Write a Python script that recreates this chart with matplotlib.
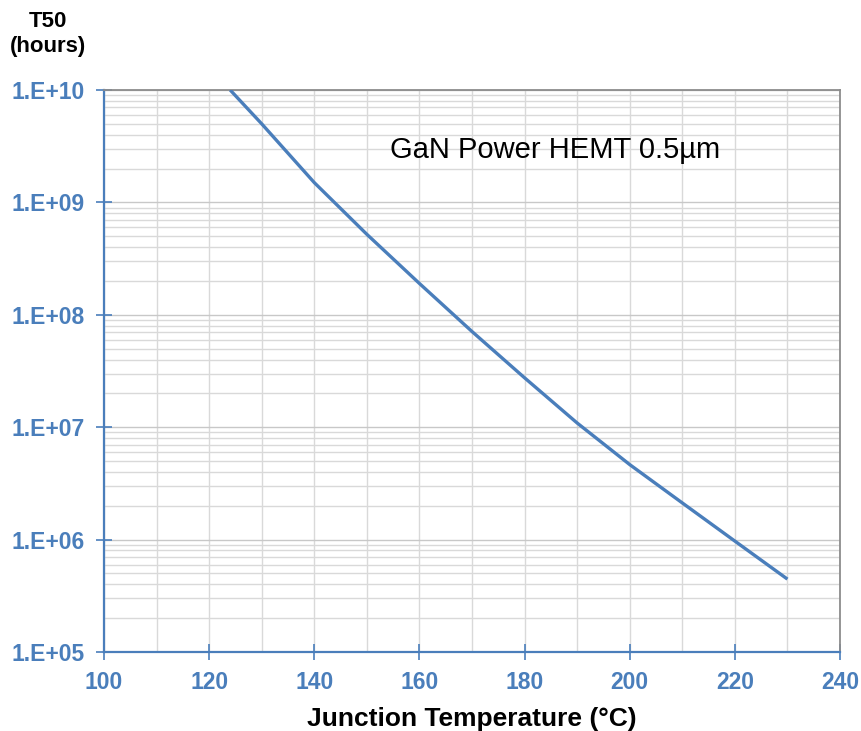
import matplotlib
matplotlib.use("Agg")
import matplotlib.pyplot as plt
from matplotlib.ticker import FixedLocator, LogLocator, NullFormatter
import numpy as np

# Data
temperature_c = [124, 130, 140, 150, 160, 170, 180, 190, 200, 210, 220, 230]
t50_hours = [1.0e10, 5.0e9, 1.5e9, 5.2e8, 1.9e8, 7.1e7, 2.75e7, 1.09e7, 4.65e6, 2.12e6, 9.7e5, 4.45e5]
x_ticks = [100, 120, 140, 160, 180, 200, 220, 240]
y_ticks = [1e5, 1e6, 1e7, 1e8, 1e9, 1e10]
y_tick_labels = ["1.E+05", "1.E+06", "1.E+07", "1.E+08", "1.E+09", "1.E+10"]
annotation = "GaN Power HEMT 0.5µm"

blue = "#4A7EBB"
font = ["Liberation Sans", "DejaVu Sans"]
plt.rcParams["font.family"] = font

fig = plt.figure(figsize=(8.62, 7.31), dpi=100)
ax = fig.add_axes([104/862, 1-652/731, (840-104)/862, (652-90)/731])

ax.set_yscale("log")
ax.set_xlim(100, 240)
ax.set_ylim(1e5, 1e10)

# grid
ax.xaxis.set_minor_locator(FixedLocator(np.arange(100, 241, 10)))
ax.yaxis.set_minor_locator(LogLocator(base=10, subs=np.arange(2, 10), numticks=20))
ax.yaxis.set_minor_formatter(NullFormatter())
ax.grid(True, which="both", axis="both", color="#D9D9D9", linewidth=1.0)
ax.grid(True, which="major", axis="y", color="#C8C8C8", linewidth=1.0)
ax.set_axisbelow(True)

ax.plot(temperature_c, t50_hours, color=blue, linewidth=2.4, solid_capstyle="butt", zorder=3)

ax.set_xticks(x_ticks)
ax.set_yticks(y_ticks)
ax.set_yticklabels(y_tick_labels)
ax.tick_params(axis="both", which="major", direction="inout", length=11.5, width=1.2,
               color=blue, labelcolor=blue, labelsize=16.5)
ax.tick_params(axis="y", which="major", pad=8)
ax.tick_params(axis="x", which="major", pad=8)
ax.tick_params(which="minor", length=0)
for lab in ax.get_xticklabels() + ax.get_yticklabels():
    lab.set_fontweight("bold")

for side in ["left", "bottom"]:
    ax.spines[side].set_color(blue)
    ax.spines[side].set_linewidth(1.6)
for side in ["top", "right"]:
    ax.spines[side].set_color("#8C8C8C")
    ax.spines[side].set_linewidth(1.3)

ax.text(154.4, 2.9e9, annotation, fontsize=21, color="black", ha="left", va="center")

fig.text(48/862, 1-34/731, "T50\n(hours)", fontsize=16, fontweight="bold",
         ha="center", va="center", linespacing=1.25)
ax.set_xlabel("Junction Temperature (°C)", fontsize=19, fontweight="bold", labelpad=9)

fig.savefig("out.png", dpi=100)
